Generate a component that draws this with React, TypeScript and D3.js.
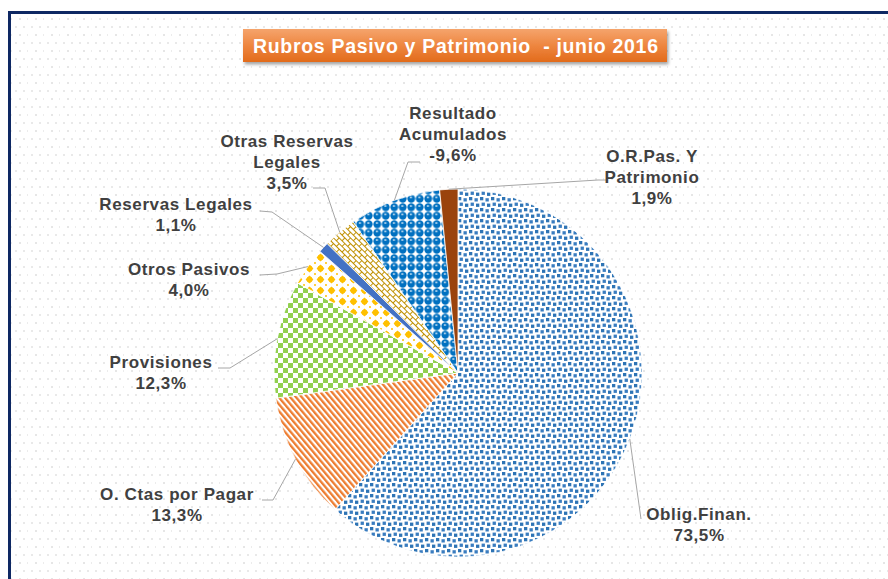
import React from "react";
import * as d3 from "d3";

// ---------- data ----------
const categories = [
  "Oblig.Finan.",
  "O. Ctas por Pagar",
  "Provisiones",
  "Otros Pasivos",
  "Reservas Legales",
  "Otras Reservas Legales",
  "Resultado Acumulados",
  "O.R.Pas. Y Patrimonio",
];
const values = [73.5, 13.3, 12.3, 4.0, 1.1, 3.5, -9.6, 1.9];
const labelLines = [
  ["Oblig.Finan."],
  ["O. Ctas por Pagar"],
  ["Provisiones"],
  ["Otros Pasivos"],
  ["Reservas Legales"],
  ["Otras Reservas", "Legales"],
  ["Resultado", "Acumulados"],
  ["O.R.Pas. Y", "Patrimonio"],
];
const title = "Rubros Pasivo y Patrimonio  - junio 2016";

// ---------- layout / style ----------
const W = 888;
const H = 579;
const CX = 458;
const CY = 373;
const R = 184;
const fills = [
  "url(#pConfetti)",
  "url(#pStripes)",
  "url(#pChecker)",
  "url(#pDiamond)",
  "#4472C4",
  "url(#pBrick)",
  "url(#pSphere)",
  "url(#gBrown)",
];
// label anchor (center x, first baseline) and leader start points
const labelLayout = [
  { x: 699, y: 520, lead: [[641, 519]] },
  { x: 177, y: 500, lead: [[262, 500], [273, 500]] },
  { x: 161, y: 368, lead: [[218, 368], [230, 368]] },
  { x: 189, y: 275, lead: [[260, 275], [277, 274]] },
  { x: 176, y: 210, lead: [[260, 211], [272, 212]] },
  { x: 287, y: 147, lead: [[313, 188], [325, 188]] },
  { x: 453, y: 119, lead: [[420, 162], [408, 162]] },
  { x: 652, y: 162, lead: [[606, 180], [598, 180]] },
];
const LINE_H = 20.8;
const fmt = (v: number) =>
  (v < 0 ? "-" : "") + d3.format(".1f")(Math.abs(v)).replace(".", ",") + "%";

export default function App() {
  const pie = d3
    .pie<number>()
    .sort(null)
    .value((d) => Math.abs(d));
  const arcs = pie(values);
  const arc = d3.arc<d3.PieArcDatum<number>>().innerRadius(0).outerRadius(R);
  const edge = d3.arc<d3.PieArcDatum<number>>().innerRadius(R).outerRadius(R);
  const font = "'Liberation Sans', Arial, sans-serif";

  return (
    <svg
      width={W}
      height={H}
      style={{ position: "absolute", left: 0, top: 0, background: "#fff" }}
    >
      <defs>
        <pattern id="bgDots" width="16" height="16" patternUnits="userSpaceOnUse" x="3" y="2">
          <rect x="0" y="0" width="2" height="2" fill="#e6e6e6" />
          <rect x="8" y="0" width="1" height="2" fill="#ececec" />
          <rect x="4" y="8" width="2" height="2" fill="#e9e9e9" />
          <rect x="12" y="8" width="2" height="2" fill="#e9e9e9" />
        </pattern>
        <pattern id="pConfetti" width="11" height="11" patternUnits="userSpaceOnUse">
          <rect width="11" height="11" fill="#fff" />
          <rect x="0" y="0" width="3.3" height="3.3" fill="#2E74B5" />
          <rect x="5.5" y="1.2" width="3.3" height="3.3" fill="#3A7DC0" />
          <rect x="1.6" y="5.6" width="3.3" height="3.3" fill="#3A7DC0" />
          <rect x="7" y="6.6" width="3.3" height="3.3" fill="#2E74B5" />
        </pattern>
        <pattern
          id="pStripes"
          width="4.4"
          height="4.4"
          patternUnits="userSpaceOnUse"
          patternTransform="rotate(-40)"
        >
          <rect width="4.4" height="4.4" fill="#fff" />
          <rect x="0" y="0" width="2.3" height="4.4" fill="#ED7D31" />
        </pattern>
        <pattern id="pChecker" width="10" height="10" patternUnits="userSpaceOnUse">
          <rect width="10" height="10" fill="#fff" />
          <rect x="0" y="0" width="5" height="5" fill="#92D050" />
          <rect x="5" y="5" width="5" height="5" fill="#92D050" />
        </pattern>
        <pattern id="pDiamond" width="11" height="11" patternUnits="userSpaceOnUse">
          <rect width="11" height="11" fill="#fff" />
          <path d="M5.5,1.6 L9.4,5.5 L5.5,9.4 L1.6,5.5 Z" fill="#FFC000" />
          <circle cx="5.5" cy="5.5" r="2.9" fill="#FFC000" />
          <circle cx="0" cy="0" r="1" fill="#FFC000" />
          <circle cx="11" cy="0" r="1" fill="#FFC000" />
          <circle cx="0" cy="11" r="1" fill="#FFC000" />
          <circle cx="11" cy="11" r="1" fill="#FFC000" />
        </pattern>
        <pattern
          id="pBrick"
          width="8"
          height="8"
          patternUnits="userSpaceOnUse"
          patternTransform="rotate(45)"
        >
          <rect width="8" height="8" fill="#fff" />
          <path
            d="M0,0.5 H8 M0,4.5 H8 M0.5,0.5 V4.5 M4.5,4.5 V8"
            stroke="#BF9000"
            strokeWidth="1"
            fill="none"
          />
        </pattern>
        <pattern id="pSphere" width="8.5" height="8.5" patternUnits="userSpaceOnUse">
          <rect width="8.5" height="8.5" fill="#fff" />
          <circle cx="4.25" cy="4.25" r="3.9" fill="#0070C0" />
          <rect x="2.8" y="2.3" width="2.2" height="1.3" fill="#fff" opacity="0.9" />
        </pattern>
        <linearGradient id="gBrown" gradientUnits="userSpaceOnUse" x1="0" y1={CY - R} x2="0" y2={CY}>
          <stop offset="0" stopColor="#9A430D" />
          <stop offset="1" stopColor="#D47A3C" />
        </linearGradient>
        <linearGradient id="gTitle" x1="0" y1="0" x2="0" y2="1">
          <stop offset="0" stopColor="#F5A46C" />
          <stop offset="0.5" stopColor="#EE8640" />
          <stop offset="1" stopColor="#E26B1C" />
        </linearGradient>
        <filter id="shadow" x="-10%" y="-30%" width="120%" height="180%">
          <feDropShadow dx="1.5" dy="2.5" stdDeviation="1.8" floodColor="#000" floodOpacity="0.35" />
        </filter>
      </defs>

      {/* frame & background */}
      <rect x={11} y={14} width={W} height={H} fill="url(#bgDots)" />
      <rect
        x={9.5}
        y={12.5}
        width={W + 20}
        height={H + 20}
        fill="none"
        stroke="#0E2863"
        strokeWidth={3}
      />

      {/* title */}
      <g filter="url(#shadow)">
        <rect x={243} y={29} width={424} height={33} fill="url(#gTitle)" />
      </g>
      <text
        x={455.5}
        y={53}
        textAnchor="middle"
        fill="#fff"
        fontFamily={font}
        fontWeight="bold"
        fontSize={19.5}
        textLength={405}
        lengthAdjust="spacing"
        style={{ whiteSpace: "pre" }}
      >
        {title}
      </text>

      {/* pie */}
      <g transform={`translate(${CX},${CY})`}>
        {arcs.map((a, i) => (
          <path
            key={categories[i]}
            d={arc(a) || ""}
            fill={fills[i]}
            stroke="#fff"
            strokeWidth={0.8}
          />
        ))}
      </g>

      {/* leader lines */}
      {arcs.map((a, i) => {
        const [ex, ey] = edge.centroid(a);
        const pts = [...labelLayout[i].lead, [CX + ex, CY + ey]];
        return (
          <path
            key={"l" + i}
            d={d3.line()(pts as [number, number][]) || ""}
            fill="none"
            stroke="#A6A6A6"
            strokeWidth={1}
          />
        );
      })}

      {/* labels */}
      {arcs.map((a, i) => {
        const lines = [...labelLines[i], fmt(values[i])];
        const L = labelLayout[i];
        return (
          <text
            key={"t" + i}
            textAnchor="middle"
            fill="#404040"
            fontFamily={font}
            fontWeight="bold"
            fontSize={17}
            letterSpacing={0.6}
          >
            {lines.map((s, j) => (
              <tspan key={j} x={L.x} y={L.y + j * LINE_H}>
                {s}
              </tspan>
            ))}
          </text>
        );
      })}
    </svg>
  );
}
